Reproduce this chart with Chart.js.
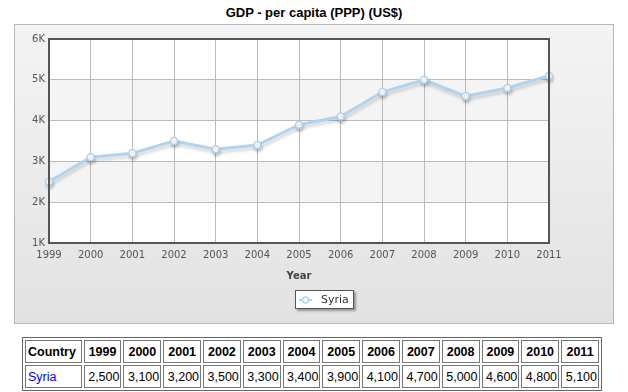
<!DOCTYPE html>
<html>
<head>
<meta charset="utf-8">
<script src="https://cdn.jsdelivr.net/npm/chart.js@4.4.1/dist/chart.umd.min.js"></script>
<style>
  body { margin: 0; background: #fff; width: 628px; height: 392px; position: relative; overflow: hidden; }
  #title { position: absolute; left: 0; top: 5px; width: 628px; text-align: center;
           font: bold 13px "Liberation Sans", Arial, sans-serif; color: #000; }
  #gdp { position: absolute; left: 0; top: 0; }
  table { position: absolute; left: 22px; top: 337px; width: 580px; border-collapse: separate; border-spacing: 2px;
          border: 1px solid #666; font: 12.5px "Liberation Sans", Arial, sans-serif; }
  td, th { border: 1px solid #777; padding: 1px 1px; height: 19px; text-align: right; }
  th { font-weight: bold; text-align: center; }
  th.c, td.c { text-align: left; padding-left: 2px; }
  td.c { color: #00f; }
</style>
</head>
<body>
<div id="title">GDP - per capita (PPP) (US$)</div>
<canvas id="gdp" width="628" height="330"></canvas>
<table id="tbl"></table>
<script>
const years = ['1999', '2000', '2001', '2002', '2003', '2004', '2005', '2006', '2007', '2008', '2009', '2010', '2011'];
const syria = [2500, 3100, 3200, 3500, 3300, 3400, 3900, 4100, 4700, 5000, 4600, 4800, 5100];
const yTicks = [1000, 2000, 3000, 4000, 5000, 6000];
const seriesName = 'Syria';
const lineColor = '#b0d3ee';

// data table under the chart
const tbl = document.getElementById('tbl');
let head = '<tr><th class="c">Country</th>' + years.map(y => '<th>' + y + '</th>').join('') + '</tr>';
let row = '<tr><td class="c">' + seriesName + '</td>' + syria.map(v => '<td>' + v.toLocaleString('en-US') + '</td>').join('') + '</tr>';
tbl.innerHTML = head + row;

const panelBg = {
    id: 'panelBg',
    beforeDraw(chart) {
        const ctx = chart.ctx;
        const area = chart.chartArea;
        ctx.save();
        const g = ctx.createLinearGradient(0, 24, 0, 324);
        g.addColorStop(0, '#f4f4f4');
        g.addColorStop(1, '#e2e2e2');
        ctx.fillStyle = g;
        ctx.fillRect(14.5, 24.5, 599, 299);
        ctx.strokeStyle = '#b8b8b8';
        ctx.lineWidth = 1;
        ctx.strokeRect(14.5, 24.5, 599, 299);
        // alternating bands
        const ys = chart.scales.y;
        for (let i = 0; i < yTicks.length - 1; i++) {
            const top = ys.getPixelForValue(yTicks[i + 1]);
            const bot = ys.getPixelForValue(yTicks[i]);
            ctx.fillStyle = (i % 2 === 0) ? '#ffffff' : '#f4f4f4';
            ctx.fillRect(area.left, top, area.right - area.left, bot - top);
        }
        ctx.restore();
    },
    beforeDatasetDraw(chart) {
        const ctx = chart.ctx;
        ctx.save();
        ctx.shadowColor = 'rgba(0,0,0,0.16)';
        ctx.shadowOffsetX = 1;
        ctx.shadowOffsetY = 3;
        ctx.shadowBlur = 3;
    },
    afterDatasetDraw(chart) {
        chart.ctx.restore();
    },
    afterDraw(chart) {
        const ctx = chart.ctx;
        const a = chart.chartArea;
        ctx.save();
        ctx.strokeStyle = '#555';
        ctx.lineWidth = 2;
        ctx.strokeRect(a.left, a.top, a.right - a.left, a.bottom - a.top);
        // legend box
        const lx = 295, ly = 290, lw = 59, lh = 19;
        ctx.shadowColor = 'rgba(0,0,0,0.35)';
        ctx.shadowOffsetX = 2;
        ctx.shadowOffsetY = 2;
        ctx.shadowBlur = 2;
        ctx.fillStyle = '#fff';
        ctx.fillRect(lx, ly, lw, lh);
        ctx.shadowColor = 'transparent';
        ctx.strokeStyle = '#555';
        ctx.lineWidth = 1;
        ctx.strokeRect(lx + 0.5, ly + 0.5, lw - 1, lh - 1);
        ctx.strokeStyle = lineColor;
        ctx.lineWidth = 2;
        ctx.beginPath();
        ctx.moveTo(lx + 4, ly + 10);
        ctx.lineTo(lx + 17, ly + 10);
        ctx.stroke();
        ctx.fillStyle = '#fff';
        ctx.lineWidth = 1.5;
        ctx.beginPath();
        ctx.arc(lx + 10.5, ly + 10, 3, 0, Math.PI * 2);
        ctx.fill();
        ctx.stroke();
        ctx.fillStyle = '#333';
        ctx.font = '11px "DejaVu Sans", Verdana, sans-serif';
        ctx.textBaseline = 'middle';
        ctx.fillText(seriesName, lx + 26, ly + 10);
        ctx.restore();
    }
};

new Chart(document.getElementById('gdp'), {
    type: 'line',
    data: {
        labels: years,
        datasets: [{
            label: seriesName,
            data: syria,
            borderColor: lineColor,
            borderWidth: 3,
            backgroundColor: '#fff',
            pointBackgroundColor: '#fff',
            pointBorderColor: lineColor,
            pointBorderWidth: 1.5,
            pointRadius: 3.5,
            tension: 0
        }]
    },
    options: {
        responsive: false,
        animation: false,
        layout: { padding: { left: 0, right: 79, top: 39, bottom: 42 } },
        plugins: {
            legend: { display: false },
            tooltip: { enabled: false }
        },
        scales: {
            x: {
                offset: false,
                afterFit(s) { s.height = 45; },
                grid: { color: '#bbb', drawTicks: false },
                border: { display: false },
                ticks: { color: '#555', padding: 6, maxRotation: 0, autoSkip: false,
                         font: { family: '"DejaVu Sans", Verdana, sans-serif', size: 10 } },
                title: { display: true, text: 'Year', color: '#444', padding: { top: 0, bottom: 6 },
                         font: { family: '"DejaVu Sans", Verdana, sans-serif', size: 10, weight: 'bold' } }
            },
            y: {
                min: 1000,
                max: 6000,
                afterFit(s) { s.width = 49; },
                afterBuildTicks(s) { s.ticks = yTicks.map(v => ({ value: v })); },
                grid: { color: '#bbb', drawTicks: false },
                border: { display: false },
                ticks: { color: '#555', padding: 4,
                         font: { family: '"DejaVu Sans", Verdana, sans-serif', size: 10 },
                         callback: v => (v / 1000) + 'K' }
            }
        }
    },
    plugins: [panelBg]
});
</script>
</body>
</html>
